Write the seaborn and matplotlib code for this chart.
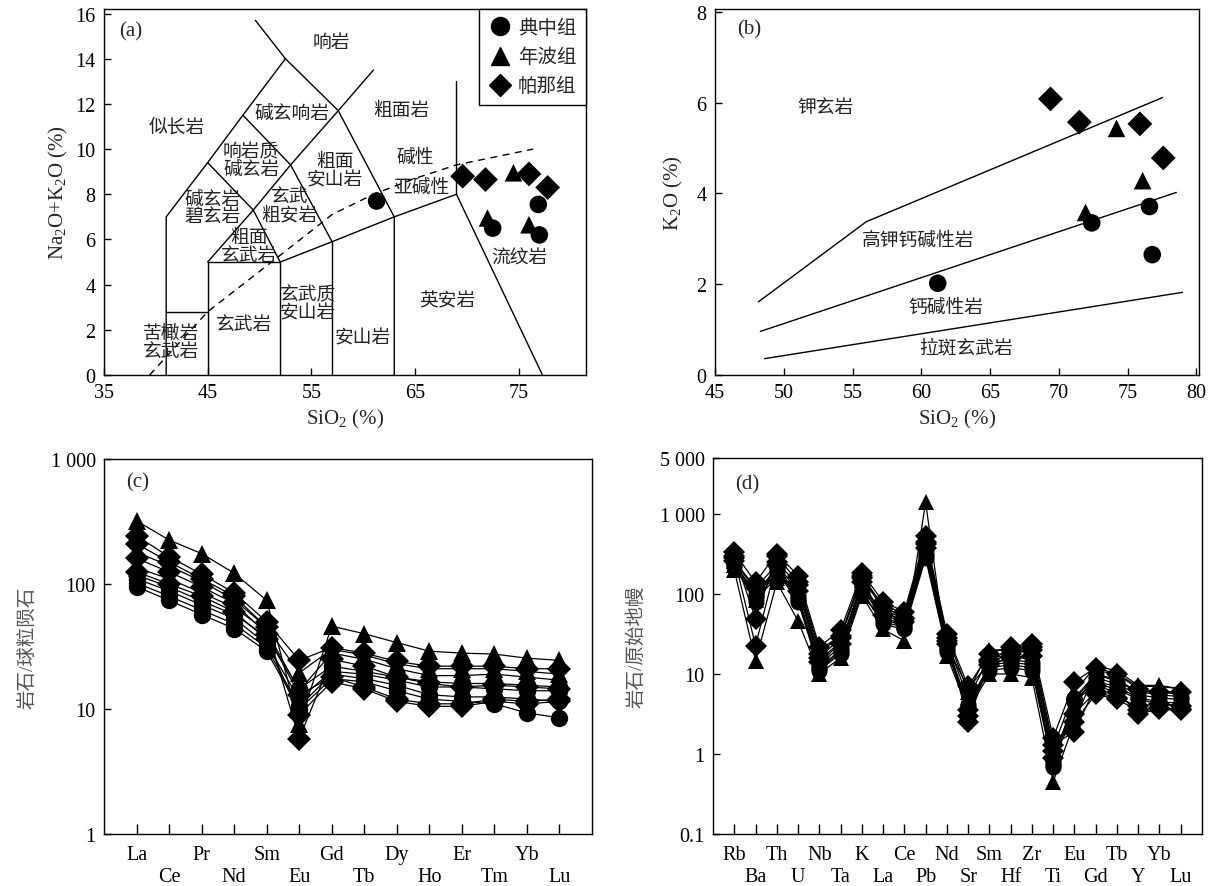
import numpy as np
import pandas as pd
import matplotlib
matplotlib.use("Agg")
import matplotlib.pyplot as plt
import seaborn as sns
from matplotlib.ticker import NullLocator, FixedLocator
from matplotlib.lines import Line2D

sns.set_theme(style="white")
plt.rcParams['font.family'] = ['Liberation Serif', 'Noto Sans CJK SC']
plt.rcParams['mathtext.fontset'] = 'stix'
plt.rcParams['axes.unicode_minus'] = False

# ---------------- data ----------------
group_names = ['典中组', '年波组', '帕那组']
group_markers = {'典中组': 'o', '年波组': '^', '帕那组': 'D'}

# sample groups (same order in every panel)
sample_group = ['典中组'] * 4 + ['年波组'] * 3 + ['帕那组'] * 4
sample_ids = ['D1', 'D2', 'D3', 'D4', 'N1', 'N2', 'N3', 'P1', 'P2', 'P3', 'P4']

# (a) TAS
tas_sio2 = [61.3, 72.5, 76.9, 77.0, 72.0, 74.5, 76.0, 69.6, 71.8, 76.0, 77.8]
tas_alk = [7.7, 6.5, 7.55, 6.2, 6.95, 8.95, 6.65, 8.8, 8.65, 8.9, 8.3]

# (b) SiO2-K2O
k_sio2 = [61.2, 72.4, 76.6, 76.8, 71.95, 74.2, 76.1, 69.4, 71.5, 75.9, 77.6]
k_k2o = [2.02, 3.35, 3.71, 2.65, 3.58, 5.43, 4.28, 6.08, 5.57, 5.53, 4.78]

# (c) chondrite-normalised REE
ree_elems = ['La', 'Ce', 'Pr', 'Nd', 'Sm', 'Eu', 'Gd', 'Tb', 'Dy', 'Ho', 'Er', 'Tm', 'Yb', 'Lu']
ree_D1 = [95, 74, 57, 44, 29, 10.0, 17.5, 16.5, 14.0, 12.0, 11.5, 11.0, 9.3, 8.5]
ree_D2 = [102, 80, 62, 48, 31, 10.5, 19, 17.5, 15.5, 13, 12.5, 12.5, 12, 11.5]
ree_D3 = [110, 88, 68, 53, 33, 12, 20, 19, 17, 15, 15, 14.5, 14, 14]
ree_D4 = [118, 95, 73, 57, 38, 14.5, 22, 20, 18, 16.5, 16, 16, 15.5, 15]
ree_N1 = [320, 225, 175, 122, 74, 7.6, 46, 40, 34, 29, 28, 27.5, 25.5, 24.5]
ree_N2 = [180, 140, 105, 75, 45, 19.5, 30, 27, 23, 21, 21, 21, 20, 19]
ree_N3 = [135, 110, 85, 65, 42, 14, 28, 25, 21, 18.5, 18.5, 19, 18, 17]
ree_P1 = [243, 165, 120, 85, 50, 24.5, 31, 28, 24, 22, 22, 22, 21, 21]
ree_P2 = [210, 150, 110, 80, 45, 5.8, 25, 22, 18, 16, 15, 15.5, 15, 14.5]
ree_P3 = [160, 125, 95, 70, 40, 13, 18, 15, 12, 11, 11, 12, 11.5, 12]
ree_P4 = [125, 100, 80, 60, 36, 9, 16.5, 14.5, 11.5, 10.5, 10.5, 11.5, 11, 11.5]

# (d) primitive-mantle-normalised spider
tr_elems = ['Rb', 'Ba', 'Th', 'U', 'Nb', 'Ta', 'K', 'La', 'Ce', 'Pb', 'Nd', 'Sr',
            'Sm', 'Hf', 'Zr', 'Ti', 'Eu', 'Gd', 'Tb', 'Y', 'Yb', 'Lu']
tr_D1 = [230, 90, 200, 85, 11, 18, 100, 45, 38, 300, 20, 4.0, 12, 13, 12, 0.7, 4.8, 8, 7, 5, 4.5, 4.3]
tr_D2 = [240, 100, 210, 90, 12, 20, 120, 48, 40, 320, 22, 4.2, 13, 14, 13, 0.75, 5, 9, 7.5, 5.5, 5, 4.8]
tr_D3 = [220, 80, 190, 80, 11.5, 19, 110, 42, 36, 280, 19, 3.8, 11, 12, 11, 0.68, 4.5, 7.5, 6.5, 4.8, 4.2, 4]
tr_D4 = [250, 95, 220, 95, 13, 22, 130, 50, 42, 350, 23, 6.5, 14, 15, 14, 0.8, 5, 10, 8, 6, 5.5, 5.2]
tr_N1 = [200, 14.5, 140, 46, 10, 16, 95, 36, 26, 1400, 17, 3.5, 10, 10, 9, 0.45, 2.5, 11, 10, 7, 7, 6.5]
tr_N2 = [260, 110, 170, 150, 20, 30, 150, 75, 55, 500, 30, 6, 20, 20, 18, 1.2, 6, 12.5, 11, 7.2, 7.2, 6.5]
tr_N3 = [230, 85, 160, 120, 15, 25, 120, 60, 45, 400, 25, 5, 16, 17, 15, 1.0, 4, 10, 8.5, 6, 6, 5.5]
tr_P1 = [330, 140, 320, 170, 22, 35, 185, 80, 60, 530, 32, 7, 18, 22, 24, 1.6, 8, 12, 10, 6.5, 6, 6]
tr_P2 = [300, 49, 300, 140, 18, 30, 170, 70, 50, 450, 28, 2.5, 15, 20, 22, 1.3, 1.9, 7, 6, 3.2, 3.6, 3.5]
tr_P3 = [280, 22.6, 250, 130, 16, 28, 160, 65, 48, 420, 26, 3, 14, 18, 20, 1.1, 2.5, 5.6, 4.8, 3.5, 3.8, 3.6]
tr_P4 = [260, 120, 230, 110, 14, 24, 140, 55, 44, 380, 24, 3.5, 13, 16, 17, 0.9, 3.2, 6, 5, 4, 4.2, 4]

# TAS boundary polylines (SiO2, Na2O+K2O)
tas_lines = [
    [(41, 0), (41, 7), (45, 9.4), (48.4, 11.5), (52.5, 14)],
    [(49.6, 15.7), (52.5, 14), (57.6, 11.7), (63, 7), (63, 0)],
    [(41, 2.8), (45, 2.8)],
    [(45, 0), (45, 5), (52, 5), (52, 0)],
    [(45, 9.4), (49.4, 7.3), (52, 5)],
    [(45, 5), (49.4, 7.3), (53, 9.3), (57.6, 11.7), (61, 13.5)],
    [(48.4, 11.5), (53, 9.3), (57, 5.9)],
    [(52, 5), (57, 5.9), (63, 7), (69, 8), (77.3, 0)],
    [(57, 0), (57, 5.9)],
    [(69, 8), (69, 13)],
]
ib_line = [(39.4, 0), (45, 2.8), (52, 5.3), (57, 7.1), (61, 8.0), (65, 8.7), (69, 9.3), (76.4, 10.0)]
tas_labels = [
    ('响岩', 56.9, 14.7), ('碱玄响岩', 53.1, 11.6), ('粗面岩', 63.7, 11.7),
    ('似长岩', 42.0, 11.0), ('响岩质\n碱玄岩', 49.2, 9.5), ('粗面\n安山岩', 57.3, 9.05),
    ('碱性', 65.0, 9.65), ('亚碱性', 65.6, 8.3), ('碱玄岩\n碧玄岩', 45.5, 7.4),
    ('玄武\n粗安岩', 52.9, 7.5), ('粗面\n玄武岩', 49.0, 5.7), ('流纹岩', 75.1, 5.2),
    ('英安岩', 68.1, 3.3), ('玄武质\n安山岩', 54.7, 3.15), ('玄武岩', 48.5, 2.25),
    ('安山岩', 60.0, 1.65), ('苦橄岩\n玄武岩', 41.5, 1.45),
]

# SiO2-K2O boundary lines
k_lines = [
    [(48.15, 1.61), (56.0, 3.375), (77.55, 6.11)],
    [(48.3, 0.96), (78.55, 4.02)],
    [(48.6, 0.36), (79.0, 1.82)],
]
k_labels = [('钾玄岩', 53.0, 5.9), ('高钾钙碱性岩', 59.8, 2.96),
            ('钙碱性岩', 61.8, 1.49), ('拉斑玄武岩', 63.25, 0.6)]

# ---------------- tables ----------------
df_a = pd.DataFrame({'SiO2': tas_sio2, 'ALK': tas_alk, 'group': sample_group})
df_b = pd.DataFrame({'SiO2': k_sio2, 'K2O': k_k2o, 'group': sample_group})

ree_all = [ree_D1, ree_D2, ree_D3, ree_D4, ree_N1, ree_N2, ree_N3, ree_P1, ree_P2, ree_P3, ree_P4]
tr_all = [tr_D1, tr_D2, tr_D3, tr_D4, tr_N1, tr_N2, tr_N3, tr_P1, tr_P2, tr_P3, tr_P4]


def long_table(rows, elems):
    recs = []
    for sid, grp, vals in zip(sample_ids, sample_group, rows):
        for i, (el, v) in enumerate(zip(elems, vals)):
            recs.append({'sample': sid, 'group': grp, 'pos': i, 'elem': el, 'val': v})
    return pd.DataFrame(recs)


df_c = long_table(ree_all, ree_elems)
df_d = long_table(tr_all, tr_elems)

# ---------------- figure ----------------
W, H = 1213, 887
fig = plt.figure(figsize=(W / 100, H / 100), dpi=100)


def add_ax(l, r, t, b):
    return fig.add_axes([l / W, (H - b) / H, (r - l) / W, (b - t) / H])


ax_a = add_ax(104, 586, 10, 376)
ax_b = add_ax(715, 1199, 10, 376)
ax_c = add_ax(104, 592, 460, 835)
ax_d = add_ax(713, 1202, 459, 835)

TICK_FS = 14.5
LAB_FS = 15
CN_FS = 13.5

for ax in (ax_a, ax_b, ax_c, ax_d):
    for sp in ax.spines.values():
        sp.set_color('black')
        sp.set_linewidth(1.0)
    ax.tick_params(axis='both', which='major', direction='in', length=5, width=1,
                   colors='black', labelsize=TICK_FS, top=False, right=False,
                   bottom=True, left=True, pad=6)
    ax.set_facecolor('white')

# ---- (a) ----
for ln in tas_lines:
    xs, ys = zip(*ln)
    ax_a.plot(xs, ys, color='black', lw=1.0)
xs, ys = zip(*ib_line)
ax_a.plot(xs, ys, color='black', lw=1.0, ls=(0, (5, 4)))
for txt, x, y in tas_labels:
    ax_a.text(x, y, txt, ha='center', va='center', fontsize=CN_FS, color='#222222',
              linespacing=1.05)
sns.scatterplot(data=df_a, x='SiO2', y='ALK', style='group', markers=group_markers,
                style_order=group_names, color='black', s=160, edgecolor='black',
                linewidth=0, ax=ax_a, legend=False, zorder=5)
ax_a.set_xlim(35, 81.5)
ax_a.set_ylim(0, 16.2)
ax_a.set_xticks([35, 45, 55, 65, 75])
ax_a.set_yticks(range(0, 17, 2))
ax_a.set_xlabel('SiO$\\mathregular{_2}$ (%)', fontsize=LAB_FS, labelpad=3)
ax_a.set_ylabel('Na$\\mathregular{_2}$O+K$\\mathregular{_2}$O (%)', fontsize=LAB_FS, labelpad=4)
ax_a.text(0.056, 0.94, '(a)', transform=ax_a.transAxes, ha='center', va='center',
          fontsize=LAB_FS)
handles = [Line2D([], [], marker=group_markers[g], color='black', ls='none',
                  markersize=13 if g != '帕那组' else 11) for g in group_names]
leg = ax_a.legend(handles, group_names, loc='upper right', borderaxespad=0,
                  frameon=True, fancybox=False, edgecolor='black', framealpha=1,
                  fontsize=14, handletextpad=0.3, handlelength=1.2,
                  borderpad=0.5, labelspacing=0.55)
leg.get_frame().set_linewidth(1.0)

# ---- (b) ----
for ln in k_lines:
    xs, ys = zip(*ln)
    ax_b.plot(xs, ys, color='black', lw=1.0)
for txt, x, y in k_labels:
    ax_b.text(x, y, txt, ha='center', va='center', fontsize=CN_FS, color='#222222')
sns.scatterplot(data=df_b, x='SiO2', y='K2O', style='group', markers=group_markers,
                style_order=group_names, color='black', s=160, edgecolor='black',
                linewidth=0, ax=ax_b, legend=False, zorder=5)
ax_b.set_xlim(45, 80.2)
ax_b.set_ylim(0, 8.06)
ax_b.set_xticks(range(45, 81, 5))
ax_b.set_yticks(range(0, 9, 2))
ax_b.set_xlabel('SiO$\\mathregular{_2}$ (%)', fontsize=LAB_FS, labelpad=3)
ax_b.set_ylabel('K$\\mathregular{_2}$O (%)', fontsize=LAB_FS, labelpad=8)
ax_b.text(0.071, 0.945, '(b)', transform=ax_b.transAxes, ha='center', va='center',
          fontsize=LAB_FS)


def two_row_ticks(ax, elems):
    ax.set_xticks(range(0, len(elems), 2))
    ax.set_xticklabels(elems[0::2])
    ax.set_xticks(range(1, len(elems), 2), minor=True)
    ax.set_xticklabels(elems[1::2], minor=True)
    ax.tick_params(axis='x', which='major', length=7, pad=8)
    ax.tick_params(axis='x', which='minor', direction='in', length=7, width=1,
                   colors='black', labelsize=TICK_FS, pad=24, bottom=True, top=False)


# ---- (c) ----
sns.lineplot(data=df_c, x='pos', y='val', units='sample', estimator=None,
             style='group', style_order=group_names, markers=group_markers,
             dashes=False, color='black', lw=0.9, markersize=12.5,
             markeredgecolor='black', markeredgewidth=0, sort=False,
             legend=False, ax=ax_c)
ax_c.set_yscale('log')
ax_c.set_ylim(1, 1000)
ax_c.set_xlim(-1, 14)
ax_c.yaxis.set_major_locator(FixedLocator([1, 10, 100, 1000]))
ax_c.set_yticklabels(['1', '10', '100', '1 000'])
ax_c.yaxis.set_minor_locator(NullLocator())
two_row_ticks(ax_c, ree_elems)
ax_c.set_xlabel('')
ax_c.set_ylabel('岩石/球粒陨石', fontsize=14, color='#555555', labelpad=10)
ax_c.text(0.069, 0.938, '(c)', transform=ax_c.transAxes, ha='center', va='center',
          fontsize=LAB_FS)

# ---- (d) ----
sns.lineplot(data=df_d, x='pos', y='val', units='sample', estimator=None,
             style='group', style_order=group_names, markers=group_markers,
             dashes=False, color='black', lw=0.9, markersize=11.5,
             markeredgecolor='black', markeredgewidth=0, sort=False,
             legend=False, ax=ax_d)
ax_d.set_yscale('log')
ax_d.set_ylim(0.1, 5000)
ax_d.set_xlim(-1, 22)
ax_d.yaxis.set_major_locator(FixedLocator([0.1, 1, 10, 100, 1000, 5000]))
ax_d.set_yticklabels(['0.1', '1', '10', '100', '1 000', '5 000'])
ax_d.yaxis.set_minor_locator(NullLocator())
two_row_ticks(ax_d, tr_elems)
ax_d.set_xlabel('')
ax_d.set_ylabel('岩石/原始地幔', fontsize=14, color='#555555', labelpad=10)
ax_d.text(0.07, 0.93, '(d)', transform=ax_d.transAxes, ha='center', va='center',
          fontsize=LAB_FS)

fig.savefig('out.png', dpi=100, facecolor='white')
